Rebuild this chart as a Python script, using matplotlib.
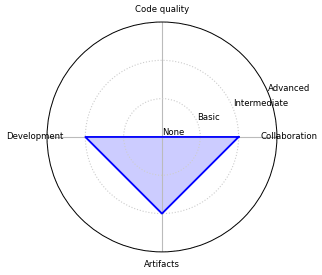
import matplotlib.pyplot as plt
import numpy as np

categories = ['Collaboration', 'Code quality', 'Development', 'Artifacts']
values = [2, 0, 2, 2]
levels = [0, 1, 2, 3]
level_labels = ['None', 'Basic', 'Intermediate', 'Advanced']

angles = np.linspace(0, 2 * np.pi, len(categories), endpoint=False)
a_closed = np.append(angles, angles[0])
v_closed = np.append(values, values[0])

fig = plt.figure(figsize=(3.22, 2.75), dpi=100)
ax = fig.add_axes([0.146, 0.084, 0.714, 0.836], polar=True)

ax.plot(a_closed, v_closed, color='blue', linewidth=1.3)
ax.fill(a_closed, v_closed, color='blue', alpha=0.2)

ax.set_xticks(angles)
ax.set_xticklabels(categories, fontsize=6.1)
ax.set_ylim(0, 3)
ax.set_yticks(levels)
ax.set_yticklabels(level_labels, fontsize=6.1)
ax.set_rlabel_position(22.5)
ax.tick_params(axis='x', pad=-1.5)

ax.xaxis.grid(True, color='#bbbbbb', linestyle='-', linewidth=0.8)
ax.yaxis.grid(True, color='#cccccc', linestyle=':', linewidth=0.8)
ax.spines['polar'].set_linewidth(0.7)

fig.savefig('out.png', dpi=100)
